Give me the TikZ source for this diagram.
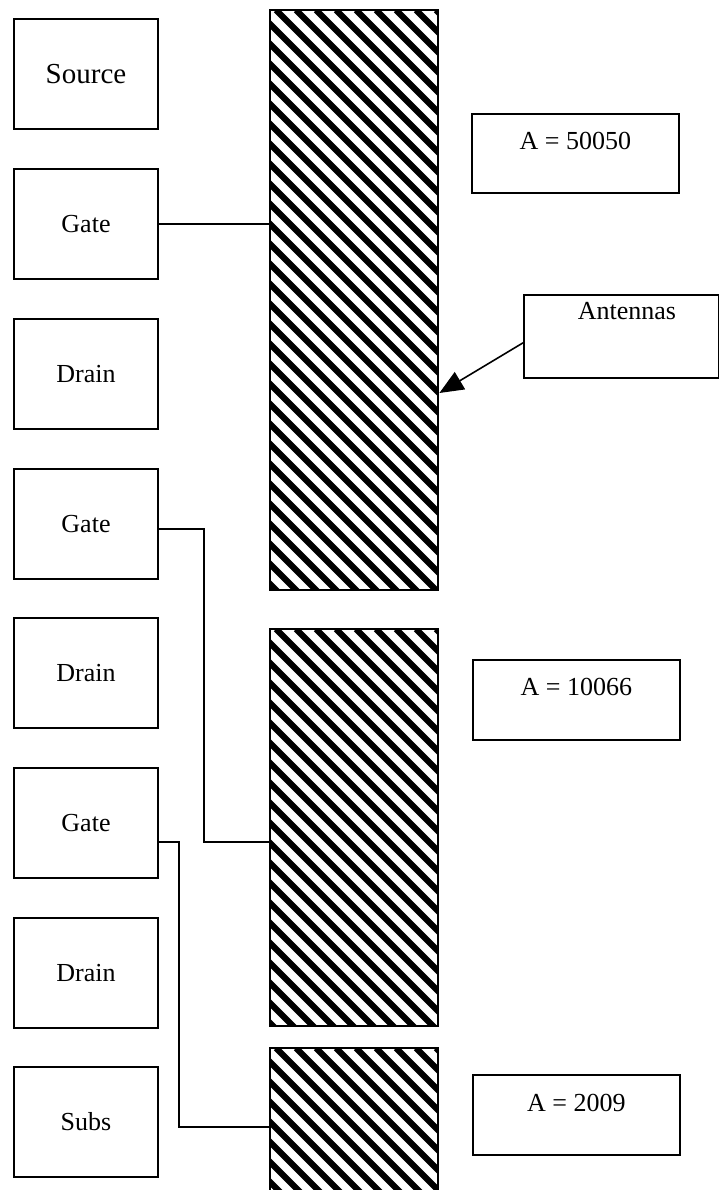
\documentclass[tikz,border=0pt]{standalone}
\usepackage{fontspec}
\setmainfont{Liberation Serif}
\usetikzlibrary{arrows.meta}

\tikzset{
  termbox/.style={draw, line width=1.7pt, minimum width=144pt, minimum height=110pt,
    inner sep=0pt, font=\fontsize{26}{30}\selectfont},
  valbox/.style={draw, line width=1.7pt, anchor=north west, minimum width=207pt,
    inner xsep=0pt, inner ysep=0pt, font=\fontsize{26}{30}\selectfont},
  bar/.style={draw, line width=2.8pt, inner sep=0pt, minimum width=168pt,
    path picture={
      \foreach \k in {-32,...,9}
        \draw[line width=6.3pt]
          ([xshift=\k*20pt+6pt]path picture bounding box.north west) -- ++(660pt,-660pt);
    }},
  wire/.style={line width=1.7pt},
}

\begin{document}
\begin{tikzpicture}[x=1pt, y=-1pt]
  \useasboundingbox (0,0) rectangle (719,1190);
  \clip (0,0) rectangle (719,1190);
  \fill[white] (0,0) rectangle (719,1190);

  % terminal column
  \node[termbox, font=\fontsize{29}{33}\selectfont] (source) at (86,74) {Source};
  \node[termbox] (gate1)  at (86,224)  {Gate};
  \node[termbox] (drain1) at (86,374)  {Drain};
  \node[termbox] (gate2)  at (86,524)  {Gate};
  \node[termbox] (drain2) at (86,673)  {Drain};
  \node[termbox] (gate3)  at (86,823)  {Gate};
  \node[termbox] (drain3) at (86,973)  {Drain};
  \node[termbox] (subs)   at (86,1122) {Subs};

  % hatched antenna metal
  \node[bar, minimum height=580pt] (bar1) at (354,300)   {};
  \node[bar, minimum height=397pt] (bar2) at (354,827.5) {};
  \node[bar, minimum height=200pt] (bar3) at (354,1148)  {};

  % area annotations
  \node[valbox, text height=36pt, text depth=43pt] (a1) at (471,113)  {A = 50050};
  \node[valbox, text height=36pt, text depth=44pt] (a2) at (472,659)  {A = 10066};
  \node[valbox, text height=37pt, text depth=43pt] (a3) at (472,1074) {A = 2009};
  \node[valbox, minimum width=195pt, text height=25pt, text depth=58pt] (ant) at (523,294)
    {\hspace*{11pt}Antennas};

  % gate connections
  \draw[wire] (gate1.east) -- (gate1.east -| bar1.west);

  \coordinate (g2) at ([yshift=-5pt]gate2.east);
  \coordinate (g3) at ([yshift=-19pt]gate3.east);
  \coordinate (s3) at ([yshift=-5pt]subs.east);

  \draw[wire] (g2) -- ++(45pt,0pt) |- (g3 -| bar2.west);
  \draw[wire] (g3) -- ++(20pt,0pt) |- (s3 -| bar3.west);

  % pointer to the antennas
  \draw[line width=1.6pt, -{Triangle[length=24pt,width=20pt]}]
    ([yshift=-6.5pt]ant.west) -- ([yshift=-93pt]bar1.east);
\end{tikzpicture}
\end{document}
